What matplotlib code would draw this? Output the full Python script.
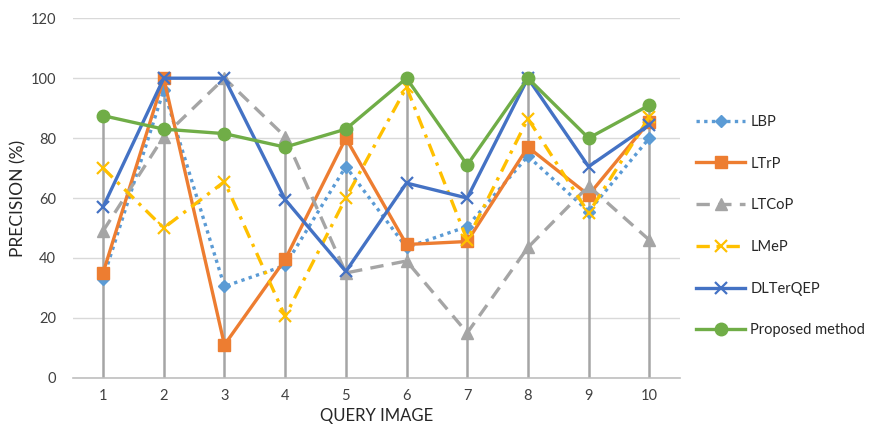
import numpy as np
import matplotlib.pyplot as plt

plt.rcParams['font.family'] = ['Lato', 'DejaVu Sans']

queries = np.arange(1, 11)
lbp = [33, 96, 30.5, 37.5, 70.5, 43.5, 50.5, 74, 55.5, 80]
ltrp = [35, 100, 11, 39.5, 80, 44.5, 45.5, 77, 61, 85.5]
ltcop = [49, 80.5, 100, 80.5, 35, 39, 15, 43.5, 64, 46]
lmep = [70, 50, 65.5, 20.5, 60, 97, 46, 86.5, 55, 87]
dlterqep = [57, 100, 100, 59.5, 35.5, 65, 60, 100, 70.5, 84.5]
proposed = [87.5, 83, 81.5, 77, 83, 100, 71, 100, 80, 91]

series = [
    ('LBP', lbp, '#5B9BD5', (0, (1, 1.3)), 'D', 6),
    ('LTrP', ltrp, '#ED7D31', '-', 's', 9),
    ('LTCoP', ltcop, '#A5A5A5', (0, (4, 2.5)), '^', 9),
    ('LMeP', lmep, '#FFC000', (0, (4, 2, 1, 2)), 'x', 8),
    ('DLTerQEP', dlterqep, '#4472C4', '-', 'x', 8),
    ('Proposed method', proposed, '#70AD47', '-', 'o', 9),
]

fig = plt.figure(figsize=(8.79, 4.25), dpi=100)
ax = fig.add_axes([0.0827, 0.111, 0.6905, 0.846])

# drop lines from the highest point of each query down to the axis
top = np.max([s[1] for s in series], axis=0)
ax.vlines(queries, 0, top, color='#A5A5A5', lw=1.8, zorder=1)

for name, vals, col, ls, mk, ms in series:
    mew = 1.6 if mk == 'x' else 1
    ax.plot(queries, vals, color=col, ls=ls, lw=2.4, marker=mk, ms=ms,
            mew=mew, mec=col, mfc=col, label=name, zorder=3)

ax.set_xlim(0.5, 10.5)
ax.set_ylim(0, 120)
ax.set_yticks(range(0, 121, 20))
ax.set_xticks(queries)
ax.grid(axis='y', color='#D9D9D9', lw=1)
ax.set_axisbelow(True)
for side in ['top', 'right', 'left']:
    ax.spines[side].set_visible(False)
ax.spines['bottom'].set_color('#BFBFBF')
ax.spines['bottom'].set_linewidth(1.2)
ax.tick_params(length=0, labelsize=10.5, colors='#404040', pad=8)
ax.tick_params(axis='y', pad=12)

ax.set_xlabel('QUERY IMAGE', fontsize=12, color='#262626', labelpad=4)
ax.set_ylabel('PRECISION (%)', fontsize=12.5, color='#262626', labelpad=3)

ax.legend(loc='upper left', bbox_to_anchor=(1.005, 0.768), frameon=False,
          fontsize=10.5, labelspacing=1.9, handlelength=3.4,
          handletextpad=0.35, labelcolor='#262626')

fig.savefig('out.png', dpi=100)
